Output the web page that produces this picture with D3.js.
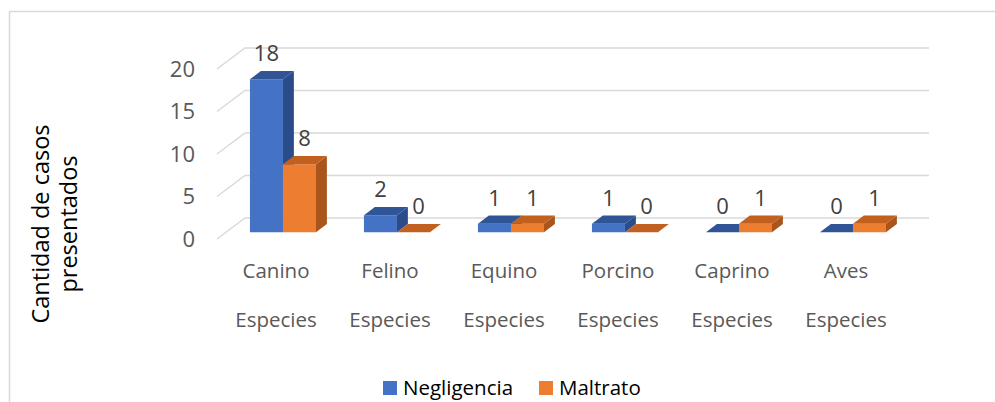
<!DOCTYPE html>
<html>
<head>
  <meta charset="utf-8">
  <script src="https://d3js.org/d3.v7.min.js"></script>
  <style>
    body { margin: 0; background: #fff; }
    text { font-family: "Open Sans", sans-serif; }
  </style>
</head>
<body>
  <svg id="chart" width="995" height="402"></svg>
  <script>
    const categories = ["Canino", "Felino", "Equino", "Porcino", "Caprino", "Aves"];
    const series = ["Negligencia", "Maltrato"];
    const negligencia = [18, 2, 1, 1, 0, 0];
    const maltrato = [8, 0, 1, 0, 1, 1];
    const yTicks = [0, 5, 10, 15, 20];

    const svg = d3.select("svg#chart");

    // 3d depth of the plot box and of the bars
    const depthX = 28, depthY = -21;
    const barT0 = 0.32, barT1 = 0.71;

    const colors = {
      Negligencia: { front: "#4472C4", top: "#2F5597", side: "#2B4C8A" },
      Maltrato: { front: "#ED7D31", top: "#C2611F", side: "#A9551B" }
    };

    const x0 = d3.scaleBand().domain(categories).range([217, 901])
                 .paddingInner(0.421).paddingOuter(0.2105);
    const x1 = d3.scaleBand().domain(series).range([0, x0.bandwidth()]);
    const y = d3.scaleLinear().domain([0, 20]).range([239, 69]);

    // frame
    svg.append("path")
      .attr("d", "M9.5,402 L9.5,11.5 L995,11.5")
      .attr("fill", "none").attr("stroke", "#d9d9d9").attr("stroke-width", 1.5);

    // gridlines: side wall diagonal + back wall line
    const grid = svg.append("g").attr("class", "gridlines");
    yTicks.forEach(v => {
      const fx = x0.range()[0], fy = y(v);
      const bx = fx + depthX, by = fy + depthY;
      grid.append("path")
        .attr("d", `M${fx},${fy} L${bx},${by} L${x0.range()[1] + depthX},${by}`)
        .attr("fill", "none").attr("stroke", "#d9d9d9").attr("stroke-width", 1.5);
    });

    // y axis labels
    svg.append("g").selectAll("text").data(yTicks).join("text")
      .attr("x", 195).attr("y", d => y(d)).attr("dy", "0.36em")
      .attr("text-anchor", "end").attr("fill", "#595959")
      .style("font-size", "22px")
      .text(d => d);

    // bars
    const data = [];
    categories.forEach((c, i) => {
      data.push({ cat: c, s: "Negligencia", v: negligencia[i] });
      data.push({ cat: c, s: "Maltrato", v: maltrato[i] });
    });

    const bars = svg.append("g").attr("class", "bars");
    data.forEach(d => {
      const xl = x0(d.cat) + x1(d.s) + depthX * barT0;
      const xr = xl + x1.bandwidth();
      const yb = y(0) + depthY * barT0;
      const yt = y(d.v) + depthY * barT0;
      const ox = depthX * (barT1 - barT0), oy = depthY * (barT1 - barT0);
      const c = colors[d.s];
      if (d.v > 0) {
        bars.append("path")
          .attr("d", `M${xl},${yb} L${xr},${yb} L${xr},${yt} L${xl},${yt}Z`)
          .attr("fill", c.front);
        bars.append("path")
          .attr("d", `M${xr},${yb} L${xr + ox},${yb + oy} L${xr + ox},${yt + oy} L${xr},${yt}Z`)
          .attr("fill", c.side);
      }
      bars.append("path")
        .attr("d", `M${xl},${yt} L${xr},${yt} L${xr + ox},${yt + oy} L${xl + ox},${yt + oy}Z`)
        .attr("fill", c.top);
      // value label
      bars.append("text")
        .attr("x", (xl + xr) / 2 + (d.s === "Maltrato" ? 5 : 0))
        .attr("y", yt + oy - 10)
        .attr("text-anchor", "middle").attr("fill", "#404040")
        .style("font-size", "22px")
        .text(d.v);
    });

    // category labels
    const catG = svg.append("g");
    categories.forEach(c => {
      const cx = x0(c) + x0.bandwidth() / 2 + 2;
      catG.append("text").attr("x", cx).attr("y", 278)
        .attr("text-anchor", "middle").attr("fill", "#595959")
        .style("font-size", "20.5px").text(c);
      catG.append("text").attr("x", cx).attr("y", 327)
        .attr("text-anchor", "middle").attr("fill", "#595959")
        .style("font-size", "20.5px").text("Especies");
    });

    // y axis title
    svg.append("text")
      .attr("transform", "translate(49,224) rotate(-90)")
      .attr("text-anchor", "middle").attr("fill", "#000")
      .style("font-size", "23.5px")
      .text("Cantidad de casos");
    svg.append("text")
      .attr("transform", "translate(77,224) rotate(-90)")
      .attr("text-anchor", "middle").attr("fill", "#000")
      .style("font-size", "23.5px")
      .text("presentados");

    // legend
    const legendX = [383, 539];
    const legend = svg.append("g");
    series.forEach((s, i) => {
      legend.append("rect").attr("x", legendX[i]).attr("y", 381)
        .attr("width", 14).attr("height", 14).attr("fill", colors[s].front);
      legend.append("text").attr("x", legendX[i] + 20).attr("y", 395)
        .attr("fill", "#000").style("font-size", "20.5px").text(s);
    });
  </script>
</body>
</html>
